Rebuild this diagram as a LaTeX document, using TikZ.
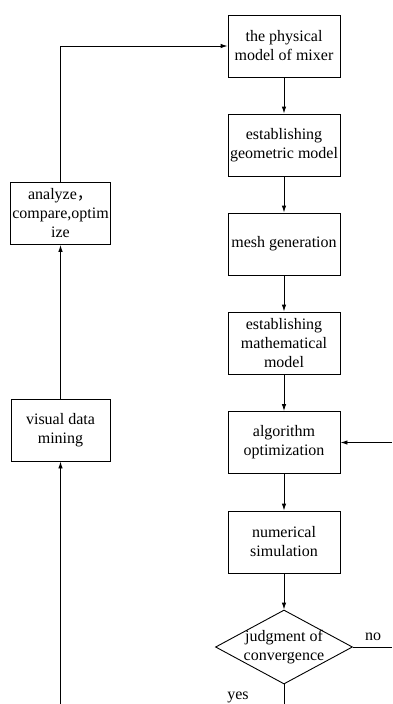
\documentclass[tikz,border=0pt]{standalone}
\usepackage{fontspec}
\setmainfont{Liberation Serif}
\newfontfamily\cjk{Noto Sans CJK SC}
\usetikzlibrary{shapes.geometric,arrows.meta}

\begin{document}
\begin{tikzpicture}[x=1pt,y=-1pt,line width=0.9pt,
        every node/.style={font=\fontsize{16}{19}\selectfont},
        box/.style={draw,rectangle,align=center,inner sep=1.5pt,minimum width=112pt,minimum height=62pt},
        sidebox/.style={box,minimum width=99pt},
        judge/.style={draw,diamond,minimum width=137pt,minimum height=74pt,inner sep=0pt},
        arr/.style={-{Latex[length=7pt,width=4.5pt]}}]
        \useasboundingbox (0,0) rectangle (392,704);
        % main column
        \node[box] (phys) at (284,46) {the physical\\model of mixer};
        \node[box] (geom) at (284,145) {establishing\\geometric model};
        \node[box] (mesh) at (284,244) {mesh generation};
        \node[box] (math) at (284,343) {establishing\\mathematical\\model};
        \node[box] (algo) at (284,442.5) {algorithm\\optimization};
        \node[box] (numsim) at (284,542) {numerical\\simulation};
        \node[judge,label={[align=center]center:judgment of\\convergence}] (conv) at (284,647) {};
        % side column
        \node[sidebox] (analyze) at (60.5,213.5) {analyze{\cjk ，}\\compare,optim\\ize};
        \node[sidebox] (visual) at (60.5,430) {visual data\\mining};
        % loose ends at the border
        \coordinate (noend) at (392,647);
        \coordinate (backin) at (392,442.5);
        \coordinate (yesend) at (284,704);
        \coordinate (visin) at (60.5,704);
        \node (nolab) at (373,637) {no};
        \node (yeslab) at (238,697) {yes};
        \draw[arr] (phys) -- (geom);
        \draw[arr] (geom) -- (mesh);
        \draw[arr] (mesh) -- (math);
        \draw[arr] (math) -- (algo);
        \draw[arr] (algo) -- (numsim);
        \draw[arr] (numsim) -- (conv);
        \draw (conv.east) -- (noend);
        \draw[arr] (backin) -- (algo.east);
        \draw (conv.south) -- (yesend);
        \draw[arr] (visin) -- (visual.south);
        \draw[arr] (visual) -- (analyze);
        \draw[arr] (analyze.north) |- (phys.west);
    \end{tikzpicture}
\end{document}
